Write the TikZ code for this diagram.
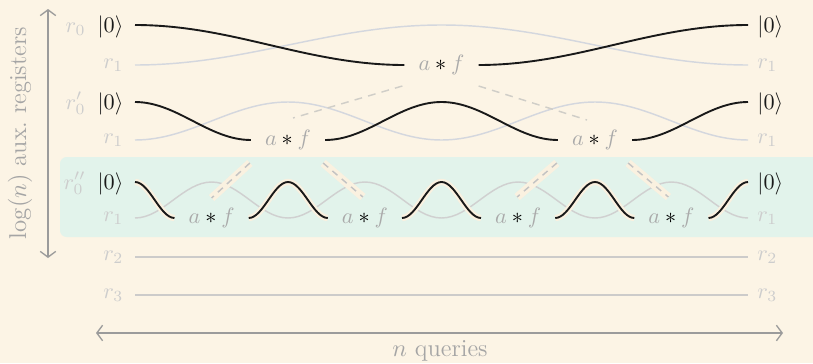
\documentclass[tikz,border=0pt]{standalone}
\usetikzlibrary{calc,arrows.meta}
\definecolor{bgc}{RGB}{252,244,229}
\definecolor{bandc}{RGB}{226,243,235}
\definecolor{wirelt}{RGB}{212,215,222}
\definecolor{wirelt3}{RGB}{208,208,208}
\definecolor{wirereg}{RGB}{204,203,202}
\definecolor{lblc}{RGB}{205,205,205}
\definecolor{afc}{RGB}{170,170,170}
\definecolor{axc}{RGB}{155,155,155}
\definecolor{axlc}{RGB}{165,165,165}
\definecolor{haloc}{RGB}{250,241,224}
\definecolor{dashc}{RGB}{208,206,200}
\definecolor{dash3c}{RGB}{195,195,195}
\definecolor{inkc}{RGB}{25,25,25}
\tikzset{
  wave/.style={to path={.. controls ($(\tikztostart)!.364!(\tikztotarget|-\tikztostart)$) and ($(\tikztotarget)!.364!(\tikztostart|-\tikztotarget)$) .. (\tikztotarget)}},
  blk/.style={draw=inkc, line width=0.85pt},
  blkhalo/.style={blk, preaction={draw=haloc, line width=2.8pt}},
  lite/.style={draw=wirelt, line width=0.65pt},
  lite3/.style={draw=wirelt3, line width=0.65pt},
  regwire/.style={draw=wirereg, line width=0.75pt},
  dsh/.style={draw=dashc, line width=0.65pt, dash pattern=on 3.5pt off 2.8pt},
  dsh3/.style={draw=dash3c, line width=0.65pt, dash pattern=on 3pt off 2.5pt,
     preaction={draw=haloc, solid, line width=3.6pt}},
  af/.style={inner sep=0pt, minimum width=33pt, minimum height=12pt},
  ket/.style={text=inkc, inner ysep=0pt},
  lbl/.style={text=lblc, inner ysep=0pt},
  axis/.style={draw=axc, line width=0.6pt, {Straight Barb[length=2.6pt,width=7pt]}-{Straight Barb[length=2.6pt,width=7pt]}},
  axlbl/.style={text=axlc, font=\fontsize{11}{13}\selectfont},
}
\newcommand{\afstar}{${\color{afc}a}*{\color{afc}f}$}
\begin{document}
\begin{tikzpicture}[x=0.45pt, y=-0.45pt]
\path[use as bounding box] (0,0) rectangle (813,363);
\clip (0,0) rectangle (813,363);
\fill[bgc] (0,0) rectangle (813,363);
\fill[bandc, rounded corners=3pt] (60,157) rectangle (830,237);

% wire endpoints
\coordinate (L0) at (135,25);   \coordinate (R0) at (748,25);
\coordinate (L1a) at (135,65);  \coordinate (R1a) at (748,65);
\coordinate (L0p) at (135,102); \coordinate (R0p) at (748,102);
\coordinate (L1b) at (135,140); \coordinate (R1b) at (748,140);
\coordinate (L0pp) at (135,182);\coordinate (R0pp) at (748,182);
\coordinate (L1c) at (135,218); \coordinate (R1c) at (748,218);
\coordinate (L2) at (135,257);  \coordinate (R2) at (748,257);
\coordinate (L3) at (135,295);  \coordinate (R3) at (748,295);
% peaks
\coordinate (pk1) at (441.5,25);
\coordinate (pk2) at (441.5,102);
\coordinate (lp21) at (288,102); \coordinate (lp22) at (441.5,140); \coordinate (lp23) at (595,102);
\coordinate (bp31) at (288,182); \coordinate (bp32) at (441.5,182); \coordinate (bp33) at (595,182);
\coordinate (l31) at (211.6,182); \coordinate (l32) at (288,218); \coordinate (l33) at (364.9,182);
\coordinate (l34) at (441.5,218); \coordinate (l35) at (518.1,182); \coordinate (l36) at (595,218);
\coordinate (l37) at (671.4,182);

% a*f nodes
\node[af] (top) at (441.5,65) {\afstar};
\node[af] (m1) at (288,140) {\afstar};
\node[af] (m2) at (595,140) {\afstar};
\node[af] (b1) at (211.6,218) {\afstar};
\node[af] (b2) at (364.9,218) {\afstar};
\node[af] (b3) at (518.1,218) {\afstar};
\node[af] (b4) at (671.4,218) {\afstar};

% left labels
\node[ket, anchor=base east, inner xsep=5pt] (k0L) at ($(L0)+(0,7)$) {$|0\rangle$};
\node[lbl, anchor=base east, inner xsep=0pt] (r0L) at (k0L.base west) {$r_0$};
\node[lbl, anchor=base east, inner xsep=5pt] (r1La) at ($(L1a)+(0,3)$) {$r_1$};
\node[ket, anchor=base east, inner xsep=5pt] (k0pL) at ($(L0p)+(0,7)$) {$|0\rangle$};
\node[lbl, anchor=base east, inner xsep=0pt] (r0pL) at (k0pL.base west) {$r_0'$};
\node[lbl, anchor=base east, inner xsep=5pt] (r1Lb) at ($(L1b)+(0,3)$) {$r_1$};
\node[ket, anchor=base east, inner xsep=5pt] (k0ppL) at ($(L0pp)+(0,7)$) {$|0\rangle$};
\node[lbl, anchor=base east, inner xsep=0pt] (r0ppL) at (k0ppL.base west) {$r_0''$};
\node[lbl, anchor=base east, inner xsep=5pt] (r1Lc) at ($(L1c)+(0,3)$) {$r_1$};
\node[lbl, anchor=base east, inner xsep=5pt] (r2L) at ($(L2)+(0,3)$) {$r_2$};
\node[lbl, anchor=base east, inner xsep=5pt] (r3L) at ($(L3)+(0,3)$) {$r_3$};
% right labels
\node[ket, anchor=base west, inner xsep=4pt] (k0R) at ($(R0)+(0,7)$) {$|0\rangle$};
\node[lbl, anchor=base west, inner xsep=4pt] (r1Ra) at ($(R1a)+(0,3)$) {$r_1$};
\node[ket, anchor=base west, inner xsep=4pt] (k0pR) at ($(R0p)+(0,7)$) {$|0\rangle$};
\node[lbl, anchor=base west, inner xsep=4pt] (r1Rb) at ($(R1b)+(0,3)$) {$r_1$};
\node[ket, anchor=base west, inner xsep=4pt] (k0ppR) at ($(R0pp)+(0,7)$) {$|0\rangle$};
\node[lbl, anchor=base west, inner xsep=4pt] (r1Rc) at ($(R1c)+(0,3)$) {$r_1$};
\node[lbl, anchor=base west, inner xsep=4pt] (r2R) at ($(R2)+(0,3)$) {$r_2$};
\node[lbl, anchor=base west, inner xsep=4pt] (r3R) at ($(R3)+(0,3)$) {$r_3$};

% axes
\coordinate (yt) at (48,9); \coordinate (yb) at (48,258);
\draw[axis] (yt) -- (yb);
\node[axlbl, rotate=90] (ylab) at (20,133) {$\log(n)$ aux.\ registers};
\coordinate (xl) at (96,333); \coordinate (xr) at (783,333);
\draw[axis] (xl) -- (xr);
\node[axlbl] (xlab) at (440,351) {$n$ queries};

% light wires
\draw[lite] (L1a) to[wave] (pk1) to[wave] (R1a);
\draw[lite] (L1b) to[wave] (lp21) to[wave] (lp22) to[wave] (lp23) to[wave] (R1b);
\draw[lite3] (L1c) to[wave] (l31) to[wave] (l32) to[wave] (l33) to[wave] (l34)
   to[wave] (l35) to[wave] (l36) to[wave] (l37) to[wave] (R1c);
\draw[regwire] (L2) -- (R2);
\draw[regwire] (L3) -- (R3);

% dashed links
\draw[dsh] ($(top.west)+(-2,21)$) -- ($(m1)+(5,-22)$);
\draw[dsh] ($(top.east)+(0,21)$) -- ($(m2)+(-8,-20)$);
\draw[dsh3] ($(m1.west)+(-1,23)$) -- ($(b1)+(0,-20)$);
\draw[dsh3] ($(m1.east)+(-2,23)$) -- ($(b2)+(-2,-21)$);
\draw[dsh3] ($(m2.west)+(-1,23)$) -- ($(b3)+(-1,-21)$);
\draw[dsh3] ($(m2.east)+(-4,23)$) -- ($(b4)+(-3,-21)$);

% black wires
\draw[blk] (L0) to[wave] (top.west);
\draw[blk] (top.east) to[wave] (R0);
\draw[blk] (L0p) to[wave] (m1.west);
\draw[blk] (m1.east) to[wave] (pk2) to[wave] (m2.west);
\draw[blk] (m2.east) to[wave] (R0p);
\draw[blkhalo] (L0pp) to[wave] (b1.west);
\draw[blkhalo] (b1.east) to[wave] (bp31) to[wave] (b2.west);
\draw[blkhalo] (b2.east) to[wave] (bp32) to[wave] (b3.west);
\draw[blkhalo] (b3.east) to[wave] (bp33) to[wave] (b4.west);
\draw[blkhalo] (b4.east) to[wave] (R0pp);
\end{tikzpicture}
\end{document}
